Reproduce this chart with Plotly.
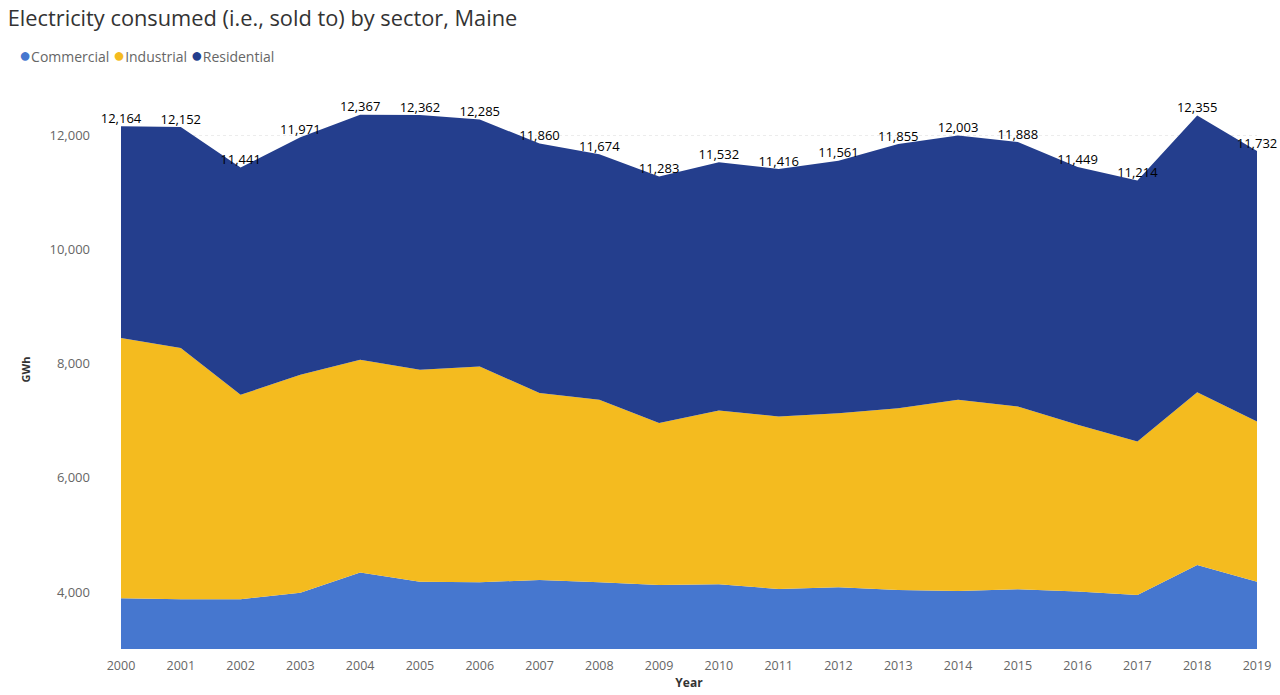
import plotly.graph_objects as go

# Electricity sold to each sector in Maine, GWh
years = list(range(2000, 2020))
commercial = [3889, 3871, 3871, 3988, 4340, 4181, 4170, 4210, 4170, 4123,
              4135, 4053, 4082, 4035, 4018, 4047, 4006, 3947, 4474, 4181]
industrial = [4562, 4404, 3585, 3819, 3730, 3714, 3783, 3276, 3198, 2837,
              3046, 3023, 3053, 3187, 3350, 3204, 2924, 2690, 3029, 2807]
residential = [3713, 3877, 3985, 4164, 4297, 4467, 4332, 4374, 4306, 4323,
               4351, 4340, 4426, 4633, 4635, 4637, 4519, 4577, 4852, 4744]

totals = [c + i + r for c, i, r in zip(commercial, industrial, residential)]

colors = {"Commercial": "#4677CF", "Industrial": "#F4BB1F", "Residential": "#243E8D"}
font_family = "Segoe UI, Open Sans, Noto Sans, sans-serif"

fig = go.Figure()
for name, vals in [("Commercial", commercial), ("Industrial", industrial),
                   ("Residential", residential)]:
    fig.add_trace(go.Scatter(
        x=years, y=vals, name=name, mode="lines",
        stackgroup="sectors", line=dict(width=0, color=colors[name]),
        fillcolor=colors[name], showlegend=False,
        hovertemplate="%{x}: %{y:,} GWh<extra>" + name + "</extra>",
    ))

# Total labels above the stacked top
fig.add_trace(go.Scatter(
    x=years, y=totals, mode="text", cliponaxis=False,
    text=[f"{t:,}" for t in totals], textposition="top center",
    textfont=dict(size=13, color="#000000", family=font_family),
    showlegend=False, hoverinfo="skip",
))

# Legend row with round markers
legend_text = "\u00a0".join(
    f'<span style="color:{colors[n]};font-size:20px">●</span>{n}'
    for n in ["Commercial", "Industrial", "Residential"]
)
fig.add_annotation(
    text=legend_text, xref="paper", yref="paper",
    x=0, y=1, xshift=-104, yshift=36, xanchor="left", yanchor="middle",
    showarrow=False, font=dict(size=14, color="#666666", family=font_family),
)

fig.update_layout(
    width=1280, height=695,
    margin=dict(l=121, r=23, t=90, b=46),
    paper_bgcolor="white", plot_bgcolor="white",
    font=dict(family=font_family, color="#666666", size=12),
    title=dict(text="Electricity consumed (i.e., sold to) by sector, Maine",
               x=0.006, xref="container", xanchor="left",
               y=0.973, yref="container", yanchor="middle",
               font=dict(size=21.8, color="#333333", family=font_family)),
    showlegend=False,
)

fig.update_xaxes(
    range=[2000, 2019], tickmode="array", tickvals=years,
    ticktext=[str(y) for y in years], showgrid=False, zeroline=False,
    showline=False, ticks="", ticklabelstandoff=7, automargin=False,
    tickfont=dict(size=12.5, color="#666666"),
    title=dict(text="<b>Year</b>", font=dict(size=12, color="#333333"), standoff=6),
)
fig.update_yaxes(
    range=[3000, 12800], tickvals=[4000, 6000, 8000, 10000, 12000],
    tickformat=",", showgrid=True, gridcolor="#ececec", griddash="dot",
    zeroline=False, showline=False, ticks="", ticklabelstandoff=30,
    automargin=False,
    tickfont=dict(size=13, color="#666666"),
    title=dict(text="<b>GWh</b>", font=dict(size=11, color="#333333"), standoff=16),
)

fig.write_html("out.html")
